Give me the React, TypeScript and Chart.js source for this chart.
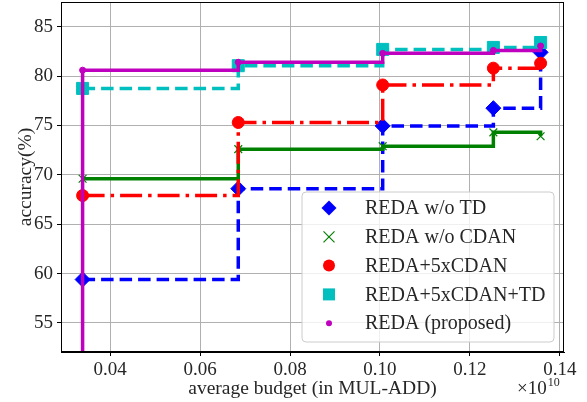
import React, { useEffect, useRef } from 'react';
import { Chart, registerables } from 'chart.js';

Chart.register(...registerables);

// ---- data (x in units of 1e10 MUL-ADD) ----
const budgets = [0.0339, 0.0685, 0.1006, 0.1252, 0.1357];
const accWoTD = [59.4, 68.6, 74.95, 76.75, 82.4];
const accWoCDAN = [69.6, 72.6, 72.9, 74.3, 73.9];
const acc5xCDAN = [67.9, 75.3, 79.1, 80.8, 81.3];
const acc5xCDANTD = [78.75, 81.05, 82.7, 82.9, 83.4];
const accProposed = [80.6, 81.4, 82.3, 82.6, 83.05];
const proposedStartAcc = 40; // line drops below the axis at the first budget

const seriesNames = ['REDA w/o TD', 'REDA w/o CDAN', 'REDA+5xCDAN', 'REDA+5xCDAN+TD', 'REDA (proposed)'];
const xTickValues = [0.04, 0.06, 0.08, 0.1, 0.12, 0.14];
const yTickValues = [55, 60, 65, 70, 75, 80, 85];
const xTitle = 'average budget (in MUL-ADD)';
const yTitle = 'accuracy(%)';
const offsetBase = '\u00d710';
const offsetExp = '10';

const FONT = "'Liberation Serif', 'Times New Roman', serif";
const TEXT = '#262626';

const colors = ['#0000ff', '#008000', '#ff0000', '#00bfbf', '#bf00bf'];
const markerKinds = ['diamond', 'cross', 'circle', 'square', 'dot'];

function drawMarker(ctx: CanvasRenderingContext2D, kind: string, x: number, y: number, color: string) {
  ctx.save();
  ctx.fillStyle = color;
  ctx.strokeStyle = color;
  ctx.setLineDash([]);
  ctx.beginPath();
  if (kind === 'diamond') {
    const r = 7.5;
    ctx.moveTo(x, y - r);
    ctx.lineTo(x + r, y);
    ctx.lineTo(x, y + r);
    ctx.lineTo(x - r, y);
    ctx.closePath();
    ctx.fill();
  } else if (kind === 'cross') {
    const r = 5.5;
    ctx.lineWidth = 1.2;
    ctx.moveTo(x - r, y - r);
    ctx.lineTo(x + r, y + r);
    ctx.moveTo(x - r, y + r);
    ctx.lineTo(x + r, y - r);
    ctx.stroke();
  } else if (kind === 'circle') {
    ctx.arc(x, y, 6, 0, Math.PI * 2);
    ctx.fill();
  } else if (kind === 'square') {
    ctx.rect(x - 6, y - 6, 12, 12);
    ctx.fill();
  } else {
    ctx.arc(x, y, 3, 0, Math.PI * 2);
    ctx.fill();
  }
  ctx.restore();
}

const framePlugin = {
  id: 'frameAndLegend',
  afterDraw(chart: any) {
    const { ctx, chartArea } = chart;
    const { left, right, top, bottom } = chartArea;
    ctx.save();
    // axes frame
    ctx.strokeStyle = '#000';
    ctx.lineWidth = 1;
    ctx.setLineDash([]);
    ctx.strokeRect(left + 0.5, top + 0.5, right - left - 1, bottom - top - 1);

    // legend
    const lx = right - 262;
    const ly = bottom - 160;
    const lw = 252;
    const lh = 150;
    const rad = 4;
    ctx.beginPath();
    ctx.moveTo(lx + rad, ly);
    ctx.lineTo(lx + lw - rad, ly);
    ctx.quadraticCurveTo(lx + lw, ly, lx + lw, ly + rad);
    ctx.lineTo(lx + lw, ly + lh - rad);
    ctx.quadraticCurveTo(lx + lw, ly + lh, lx + lw - rad, ly + lh);
    ctx.lineTo(lx + rad, ly + lh);
    ctx.quadraticCurveTo(lx, ly + lh, lx, ly + lh - rad);
    ctx.lineTo(lx, ly + rad);
    ctx.quadraticCurveTo(lx, ly, lx + rad, ly);
    ctx.closePath();
    ctx.fillStyle = 'rgba(255,255,255,0.8)';
    ctx.fill();
    ctx.strokeStyle = '#cccccc';
    ctx.lineWidth = 1;
    ctx.stroke();

    ctx.font = `20px ${FONT}`;
    ctx.textBaseline = 'middle';
    ctx.textAlign = 'left';
    seriesNames.forEach((name, i) => {
      const cy = ly + 16 + i * 28.8;
      drawMarker(ctx, markerKinds[i], lx + 27, cy, colors[i]);
      ctx.fillStyle = TEXT;
      ctx.fillText(name, lx + 63, cy + 1);
    });

    // offset text (x10^10)
    ctx.fillStyle = TEXT;
    ctx.textBaseline = 'alphabetic';
    ctx.font = `19px ${FONT}`;
    const baseX = right - 47;
    ctx.fillText(offsetBase, baseX, 394);
    const w = ctx.measureText(offsetBase).width;
    ctx.font = `12px ${FONT}`;
    ctx.fillText(offsetExp, baseX + w + 1, 386);
    ctx.restore();
  },
};

function zeroPadding(scale: any) {
  scale.paddingTop = 0;
  scale.paddingBottom = 0;
  scale.paddingLeft = 0;
  scale.paddingRight = 0;
}

export default function App() {
  const ref = useRef<HTMLCanvasElement | null>(null);

  useEffect(() => {
    if (!ref.current) return;
    const mk = (arr: number[]) => budgets.map((b, i) => ({ x: b, y: arr[i] }));
    const base = {
      stepped: 'before' as const,
      tension: 0,
      borderWidth: 3.5,
      borderCapStyle: 'butt' as const,
      borderJoinStyle: 'miter' as const,
      fill: false,
      pointBorderWidth: 1,
    };
    const chart = new Chart(ref.current, {
      type: 'line',
      data: {
        datasets: [
          {
            ...base,
            label: seriesNames[0],
            data: mk(accWoTD),
            borderColor: colors[0],
            backgroundColor: colors[0],
            borderDash: [12.5, 6],
            pointStyle: 'rectRot',
            pointRadius: 7.5,
            pointBackgroundColor: colors[0],
            pointBorderColor: colors[0],
            order: 5,
          },
          {
            ...base,
            label: seriesNames[1],
            data: mk(accWoCDAN),
            borderColor: colors[1],
            backgroundColor: colors[1],
            pointStyle: 'crossRot',
            pointRadius: 5.5,
            pointBorderWidth: 1.2,
            pointBackgroundColor: colors[1],
            pointBorderColor: colors[1],
            order: 4,
          },
          {
            ...base,
            label: seriesNames[2],
            data: mk(acc5xCDAN),
            borderColor: colors[2],
            backgroundColor: colors[2],
            borderDash: [22, 6, 3.5, 6],
            pointStyle: 'circle',
            pointRadius: 6,
            pointBackgroundColor: colors[2],
            pointBorderColor: colors[2],
            order: 3,
          },
          {
            ...base,
            label: seriesNames[3],
            data: mk(acc5xCDANTD),
            borderColor: colors[3],
            backgroundColor: colors[3],
            borderDash: [12.5, 6],
            pointStyle: 'rect',
            pointRadius: 8.5,
            pointBackgroundColor: colors[3],
            pointBorderColor: colors[3],
            order: 2,
          },
          {
            ...base,
            label: seriesNames[4],
            data: [{ x: budgets[0], y: proposedStartAcc }, ...mk(accProposed)],
            borderColor: colors[4],
            backgroundColor: colors[4],
            pointStyle: 'circle',
            pointRadius: [0, 3, 3, 3, 3, 3],
            pointBackgroundColor: colors[4],
            pointBorderColor: colors[4],
            order: 1,
          },
        ],
      },
      options: {
        responsive: false,
        animation: false,
        devicePixelRatio: 1,
        layout: { autoPadding: false, padding: { top: 2, right: 23, bottom: 0, left: 0 } },
        plugins: { legend: { display: false }, tooltip: { enabled: false } },
        scales: {
          x: {
            type: 'linear',
            min: 0.0291,
            max: 0.1409,
            afterBuildTicks: (scale: any) => {
              scale.ticks = xTickValues.map((v) => ({ value: v }));
            },
            afterFit: (scale: any) => {
              scale.height = 50;
              zeroPadding(scale);
            },
            ticks: {
              callback: (v: any) => Number(v).toFixed(2),
              font: { family: FONT, size: 19 },
              color: TEXT,
              padding: 3,
              maxRotation: 0,
              autoSkip: false,
            },
            grid: { color: '#b0b0b0', lineWidth: 1, tickColor: '#000', tickLength: 4 },
            border: { display: true, color: '#000', width: 1 },
            title: {
              display: true,
              text: xTitle,
              font: { family: FONT, size: 19.5 },
              color: TEXT,
              padding: { top: 0, bottom: 1 },
            },
          },
          y: {
            type: 'linear',
            min: 52.06,
            max: 87.5,
            afterBuildTicks: (scale: any) => {
              scale.ticks = yTickValues.map((v) => ({ value: v }));
            },
            afterFit: (scale: any) => {
              scale.width = 61;
              zeroPadding(scale);
            },
            ticks: {
              callback: (v: any) => String(v),
              font: { family: FONT, size: 19 },
              color: TEXT,
              padding: 4,
              autoSkip: false,
            },
            grid: { color: '#b0b0b0', lineWidth: 1, tickColor: '#000', tickLength: 4 },
            border: { display: true, color: '#000', width: 1 },
            title: {
              display: true,
              text: yTitle,
              font: { family: FONT, size: 19.5 },
              color: TEXT,
              padding: { top: 14, bottom: 0 },
            },
          },
        },
      },
      plugins: [framePlugin],
    } as any);
    return () => chart.destroy();
  }, []);

  return (
    <div style={{ position: 'fixed', left: 0, top: 0, width: 587, height: 402, background: '#fff' }}>
      <canvas ref={ref} width={587} height={402} style={{ display: 'block' }} />
    </div>
  );
}
